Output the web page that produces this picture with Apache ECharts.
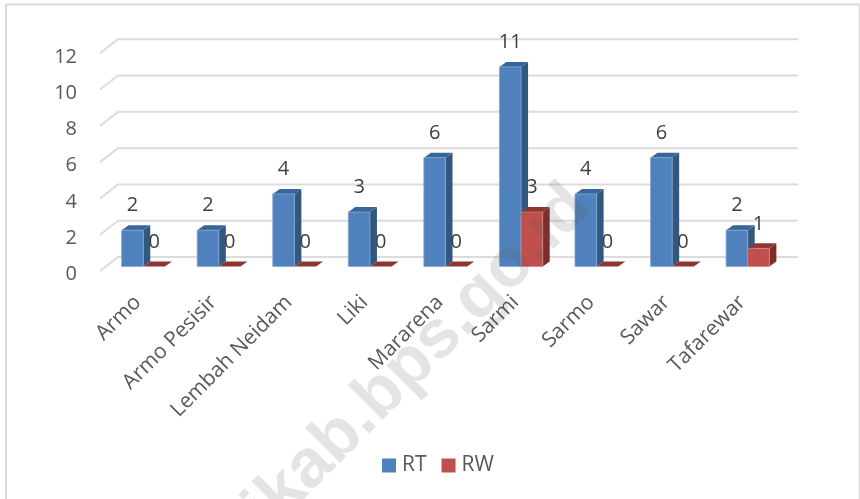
<!DOCTYPE html>
<html>
<head>
<meta charset="utf-8">
<script src="https://cdn.jsdelivr.net/npm/echarts@6/dist/echarts.min.js"></script>
<style>
html,body{margin:0;padding:0;background:#fff;overflow:hidden}
#main{width:860px;height:499px}
</style>
</head>
<body>
<div id="main"></div>
<script>
var categories = ['Armo','Armo Pesisir','Lembah Neidam','Liki','Mararena','Sarmi','Sarmo','Sawar','Tafarewar'];
var rtValues = [2,2,4,3,6,11,4,6,2];
var rwValues = [0,0,0,0,0,3,0,0,1];
var yTicks = [0,2,4,6,8,10,12];

var fontName = '"Open Sans"';
var myChart = echarts.init(document.getElementById('main'));

// one 3d looking column, side 0 = left of the category centre, side 1 = right
function barItem(side, front, top, right, edge) {
	return function(params, api) {
		var cat = api.value(0), val = api.value(1);
		var p = api.coord([cat, val]);
		var base = api.coord([cat, 0]);
		var w = api.size([1, 0])[0] * 0.2865;
		var x0 = p[0] - w + side * w, x1 = x0 + w;
		var dx = 7, dy = 5;
		return {
			type: 'group',
			children: [
				{type:'polygon', shape:{points:[[x1,p[1]],[x1+dx,p[1]-dy],[x1+dx,base[1]-dy],[x1,base[1]]]}, style:{fill:right}},
				{type:'polygon', shape:{points:[[x0,p[1]],[x0+dx,p[1]-dy],[x1+dx,p[1]-dy],[x1,p[1]]]}, style:{fill:top}},
				{type:'rect', shape:{x:x0,y:p[1],width:w,height:base[1]-p[1]}, style:{fill:front, stroke:val>0?edge:null, lineWidth:0.8}},
				{type:'text', x:(x0+x1)/2, y:p[1]-24.5, style:{text:String(val), fill:'#404040', font:'20px '+fontName, align:'center', verticalAlign:'middle'}}
			]
		};
	};
}

// floor edge plus back wall line for one tick
function gridItem(params, api) {
	var a = api.coord([0, api.value(0)]);
	var left = a[0] - api.size([1, 0])[0] / 2;
	var right = left + api.size([1, 0])[0] * categories.length;
	var y = a[1];
	return {
		type: 'polyline',
		shape: {points:[[left-5.5,y+4.5],[left+12.5,y-9.5],[right+12.5,y-9.5]]},
		style: {stroke:'#dcdcdc', lineWidth:2, fill:null}
	};
}

// the site stamp goes over the bars, graphic stays under them so it is a series here
function stampItem() {
	return {
		type: 'text', x: 418, y: 358, rotation: Math.PI / 4,
		style: {text:'ikab.bps.go.id', font:'bold 68px "Liberation Sans"', fill:'rgba(90,90,90,0.16)', align:'center', verticalAlign:'middle'}
	};
}

myChart.setOption({
	animation: false,
	backgroundColor: '#fff',
	legend: {
		left: 382, top: 455, padding: 0,
		itemWidth: 14, itemHeight: 14, itemGap: 15,
		icon: 'rect',
		data: ['RT','RW'],
		textStyle: {fontFamily:fontName, fontSize:21, color:'#595959', padding:[0,0,0,1]}
	},
	grid: [
		{left:105.5, right:74.5, top:48.8, bottom:232.5},
		{left:100, right:80, top:56.8, bottom:224.5}
	],
	xAxis: [
		{type:'category', gridIndex:0, data:categories, show:false},
		{type:'category', gridIndex:1, data:categories, axisLine:{show:false}, axisTick:{show:false},
			axisLabel:{interval:0, rotate:45, margin:24.5, fontFamily:fontName, fontSize:21, color:'#595959'}}
	],
	yAxis: [
		{type:'value', gridIndex:0, min:0, max:12, interval:2, show:false, splitLine:{show:false}},
		{type:'value', gridIndex:1, min:0, max:12, interval:2, axisLine:{show:false}, axisTick:{show:false}, splitLine:{show:false},
			axisLabel:{margin:23, fontFamily:fontName, fontSize:20, color:'#595959'}}
	],
	series: [
		{type:'custom', name:'grid', data:yTicks.map(function(v){return [v];}), renderItem:gridItem, encode:{y:0}, silent:true, z:1},
		{type:'custom', name:'RT', data:rtValues.map(function(v,i){return [i,v];}), renderItem:barItem(0,'#4f81bd','#38659a','#335880','#86a8d4'), encode:{x:0,y:1}, itemStyle:{color:'#4f81bd'}, z:2},
		{type:'custom', name:'RW', data:rwValues.map(function(v,i){return [i,v];}), renderItem:barItem(1,'#c0504d','#8c3533','#7f2d2b','#d08583'), encode:{x:0,y:1}, itemStyle:{color:'#c0504d'}, z:3},
		{type:'custom', name:'stamp', data:[[0,0]], renderItem:stampItem, encode:{x:0,y:1}, silent:true, z:10}
	],
	graphic: [
		{type:'rect', shape:{x:6,y:4.5,width:853.5,height:520}, style:{fill:null, stroke:'#dcdcdc', lineWidth:2}}
	]
});
</script>
</body>
</html>
